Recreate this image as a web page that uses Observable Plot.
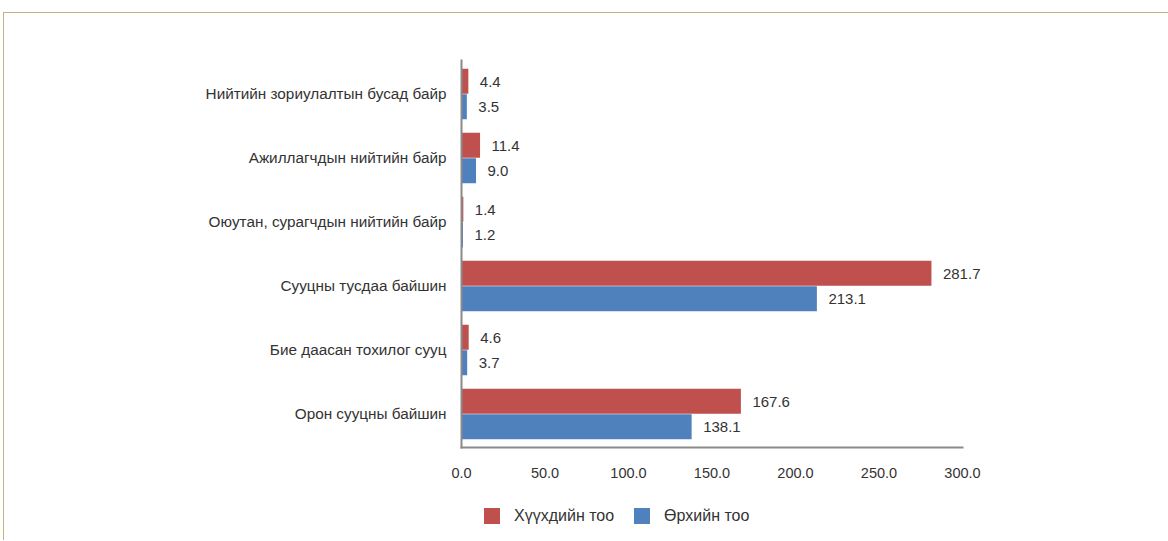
<!DOCTYPE html>
<html>
<head>
<meta charset="utf-8">
<script src="https://cdn.jsdelivr.net/npm/d3@7"></script>
<script src="https://cdn.jsdelivr.net/npm/@observablehq/plot@0.6"></script>
<style>
  html, body { margin: 0; padding: 0; background: #fff; }
  .wrap {
    margin: 12px 0 0 3px;
    border-top: 1px solid #c9b07c;
    border-left: 1px solid #c9b07c;
    height: 528px;
    box-sizing: border-box;
    font-family: "Liberation Sans", Arial, sans-serif;
  }
  .legend { display: flex; align-items: center; padding-left: 480px; margin-top: 20px; font-size: 16px; color: #333; }
  .legend .sw { width: 16px; height: 16px; display: inline-block; margin-right: 14px; }
  .legend .item { display: flex; align-items: center; margin-right: 20px; }
</style>
</head>
<body>
<div class="wrap" id="wrap"></div>
<script>
const categories = [
  "Нийтийн зориулалтын бусад байр",
  "Ажиллагчдын нийтийн байр",
  "Оюутан, сурагчдын нийтийн байр",
  "Сууцны тусдаа байшин",
  "Бие даасан тохилог сууц",
  "Орон сууцны байшин"
];
const children = [4.4, 11.4, 1.4, 281.7, 4.6, 167.6];
const households = [3.5, 9.0, 1.2, 213.1, 3.7, 138.1];
const seriesNames = ["Хүүхдийн тоо", "Өрхийн тоо"];
const xTicks = [0, 50, 100, 150, 200, 250, 300];
const colors = ["#c0504d", "#4f81bd"];

const rows = categories.map((c, i) => ({cat: c, child: children[i], house: households[i]}));
const fmt = d3.format(".1f");
const axisColor = "#8a8a8a";

const chart = Plot.plot({
  width: 1164,
  height: 474,
  marginLeft: 457,
  marginRight: 206,
  marginTop: 47,
  marginBottom: 40,
  style: {fontFamily: "Liberation Sans, Arial, sans-serif", fontSize: "14.5px", color: "#333", background: "transparent"},
  x: {domain: [0, 300], ticks: xTicks, tickFormat: d => fmt(d), tickSize: 0, tickPadding: 20, label: null},
  y: {type: "band", domain: categories, padding: 0, tickSize: 0, tickPadding: 15, label: null},
  marks: [
    Plot.barX(rows, {y: "cat", x: "child", fill: colors[0], insetTop: 6.75, insetBottom: 32.25}),
    Plot.barX(rows, {y: "cat", x: "house", fill: colors[1], insetTop: 32.25, insetBottom: 6.75}),
    Plot.text(rows, {y: "cat", x: "child", text: d => fmt(d.child), dx: 11, dy: -12.5, textAnchor: "start", fill: "#333", fontSize: 15}),
    Plot.text(rows, {y: "cat", x: "house", text: d => fmt(d.house), dx: 11, dy: 12.75, textAnchor: "start", fill: "#333", fontSize: 15}),
    Plot.frame({anchor: "left", stroke: axisColor, strokeWidth: 2}),
    Plot.frame({anchor: "bottom", stroke: axisColor, strokeWidth: 2})
  ]
});

const wrap = document.getElementById("wrap");
wrap.appendChild(chart);
d3.select(chart).selectAll("[aria-label='y-axis tick label'] text, g[aria-label='y-axis tick label']").style("font-size", "15.3px");

const legend = document.createElement("div");
legend.className = "legend";
seriesNames.forEach((name, i) => {
  const item = document.createElement("div");
  item.className = "item";
  const sw = document.createElement("span");
  sw.className = "sw";
  sw.style.background = colors[i];
  const label = document.createElement("span");
  label.textContent = name;
  item.appendChild(sw);
  item.appendChild(label);
  legend.appendChild(item);
});
wrap.appendChild(legend);
</script>
</body>
</html>
